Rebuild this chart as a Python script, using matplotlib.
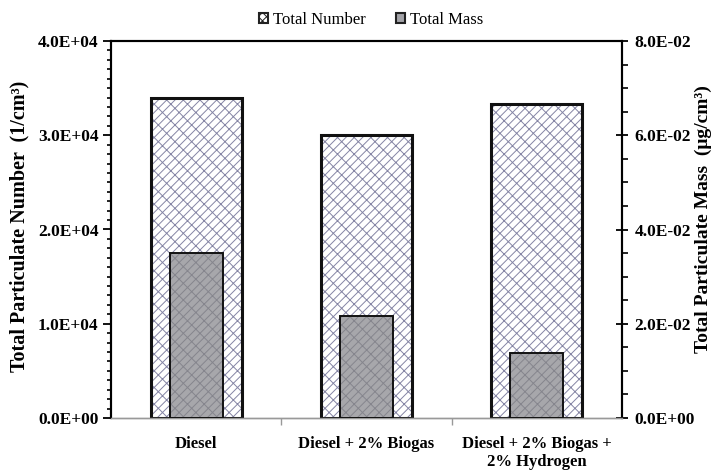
import matplotlib
matplotlib.use("Agg")
import matplotlib.pyplot as plt
from matplotlib.patches import Patch
from matplotlib.ticker import MultipleLocator, FuncFormatter

categories = ["Diesel", "Diesel + 2% Biogas", "Diesel + 2% Biogas +\n2% Hydrogen"]
total_number = [34000, 30000, 33300]       # 1/cm3
total_mass = [0.0350, 0.0217, 0.0138]      # ug/cm3

plt.rcParams["font.family"] = ["Liberation Serif", "DejaVu Serif"]
plt.rcParams["hatch.linewidth"] = 0.7

W, H = 712, 471


def sci(v, _pos):
    return f"{v:.1E}"


fig = plt.figure(figsize=(W / 100, H / 100), dpi=100)
ax = fig.add_axes([111 / W, 1 - 418 / H, 511 / W, 377 / H])
ax2 = ax.twinx()

x = list(range(len(categories)))

# number bars: hatch in bluish grey, then a black outline on top
ax.bar(x, total_number, width=0.535, color="white", edgecolor="#8585a5",
       hatch="////\\\\", linewidth=0, zorder=2)
ax.bar(x, total_number, width=0.535, fill=False, edgecolor="#111111",
       linewidth=2.2, zorder=3)

ax2.bar(x, total_mass, width=0.31, color="#a7a7ab", edgecolor="#85858d",
        hatch="////\\\\", linewidth=0, zorder=2)
ax2.bar(x, total_mass, width=0.31, fill=False, edgecolor="#111111",
        linewidth=1.4, zorder=3)

ax.set_xlim(-0.5, 2.5)
ax.set_ylim(0, 40000)
ax2.set_ylim(0, 0.08)

ax.yaxis.set_major_locator(MultipleLocator(10000))
ax.yaxis.set_minor_locator(MultipleLocator(1000))
ax2.yaxis.set_major_locator(MultipleLocator(0.02))
ax2.yaxis.set_minor_locator(MultipleLocator(0.005))
ax.yaxis.set_major_formatter(FuncFormatter(sci))
ax2.yaxis.set_major_formatter(FuncFormatter(sci))

ax.set_xticks([0.5, 1.5])
ax.set_xticklabels([])
ax.set_xticks(x, minor=True)
ax.set_xticklabels(categories, minor=True, fontweight="bold", fontsize=12,
                   linespacing=1.15)
ax.tick_params(axis="x", which="major", direction="out", length=5,
               color="#999999", width=1)
ax.tick_params(axis="x", which="minor", length=0, pad=13)

ax.tick_params(axis="y", which="major", direction="out", length=6, width=1.3,
               labelsize=12.5, pad=3)
ax.tick_params(axis="y", which="minor", direction="out", length=3, width=1.2)
ax2.tick_params(axis="y", which="major", direction="inout", length=8, width=1.3,
                labelsize=12.5, pad=5)
ax2.tick_params(axis="y", which="minor", direction="out", length=4, width=1.2)
for lbl in ax.get_yticklabels() + ax2.get_yticklabels():
    lbl.set_fontweight("bold")

for a in (ax, ax2):
    a.spines["left"].set_linewidth(1.5)
    a.spines["right"].set_linewidth(1.5)
    a.spines["top"].set_linewidth(1.5)
    a.spines["bottom"].set_color("#999999")
    a.spines["bottom"].set_linewidth(1.0)
    a.set_facecolor("none")

# axis titles placed as figure text so they sit close to the edges
fig.text(9 / W, 1 - 226 / H, "Total Particulate Number  (1/cm\u00b3)",
         rotation=90, ha="left", va="center", fontsize=14.5, fontweight="bold")
fig.text(712 / W, 1 - 219 / H, "Total Particulate Mass  (\u03bcg/cm\u00b3)",
         rotation=90, ha="right", va="center", fontsize=14, fontweight="bold")

handles = [
    Patch(facecolor="white", edgecolor="#222222", hatch="xxxx", linewidth=1.5,
          label="Total Number"),
    Patch(facecolor="#a3a3a8", edgecolor="#222222", linewidth=1.5,
          label="Total Mass"),
]
fig.legend(handles=handles, loc="center", bbox_to_anchor=(371 / W, 1 - 20 / H),
           ncol=2, frameon=False, fontsize=12, handlelength=0.55,
           handleheight=0.55, handletextpad=0.3, columnspacing=1.8,
           borderpad=0)

fig.savefig("out.png", dpi=100)
